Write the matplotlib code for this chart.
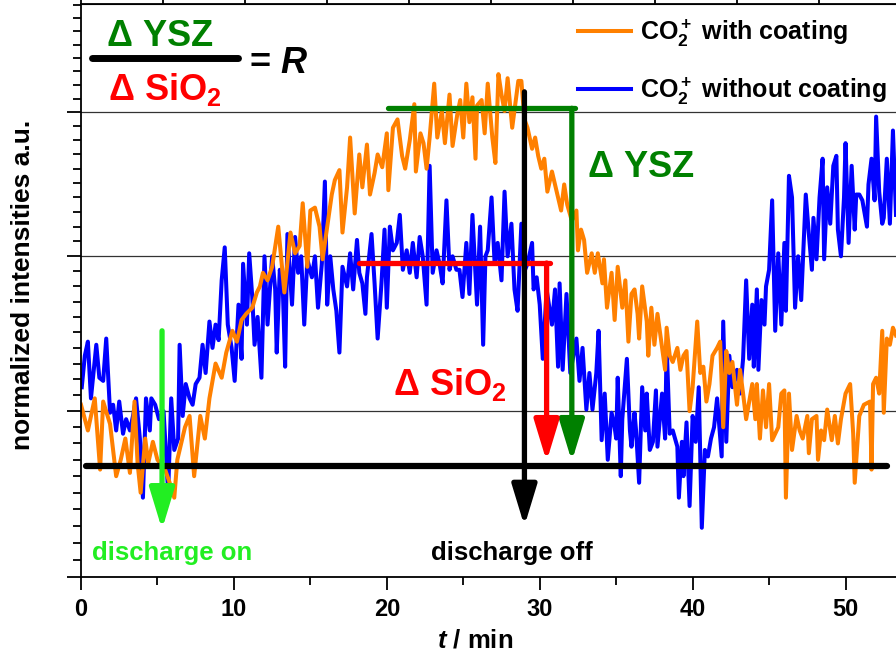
import numpy as np
import matplotlib.pyplot as plt

# CO2+ signal with coating (orange), time in min
t_coat = [0.0, 0.45, 0.9, 1.25, 1.45, 1.9, 2.3, 2.6, 2.9, 3.2,
          3.5, 3.7, 3.9, 4.2, 4.4, 4.7, 5.0, 5.5, 5.8, 6.1,
          6.3, 6.8, 7.1, 7.4, 7.8, 8.1, 8.4, 8.8, 9.2, 9.5,
          9.9, 10.2, 10.5, 10.8, 11.2, 11.5, 11.7, 11.9, 12.2, 12.5,
          12.9, 13.1, 13.3, 13.7, 14.0, 14.3, 14.5, 14.8, 15.0, 15.3,
          15.6, 15.8, 16.1, 16.4, 16.6, 16.9, 17.1, 17.4, 17.6, 17.9,
          18.2, 18.4, 18.7, 18.9, 19.2, 19.4, 19.7, 20.0, 20.1, 20.4,
          20.7, 21.0, 21.2, 21.5, 21.8, 21.9, 22.2, 22.4, 22.6, 22.8,
          23.1, 23.3, 23.6, 23.8, 24.1, 24.3, 24.6, 24.8, 25.0, 25.2,
          25.4, 25.6, 25.8, 25.9, 26.2, 26.4, 26.6, 26.9, 27.1, 27.3,
          27.5, 27.7, 27.9, 28.2, 28.4, 28.6, 28.8, 29.0, 29.2, 29.5,
          29.7, 29.9, 30.1, 30.3, 30.5, 30.8, 31.0, 31.2, 31.4, 31.6,
          31.8, 32.1, 32.4, 32.5, 32.7, 32.9, 33.1, 33.4, 33.6, 33.8,
          34.1, 34.2, 34.4, 34.7, 34.9, 35.1, 35.4, 35.6, 35.8, 36.0,
          36.2, 36.4, 36.5, 36.7, 37.0, 37.1, 37.3, 37.5, 37.7, 38.0,
          38.2, 38.3, 38.5, 38.7, 39.0, 39.2, 39.4, 39.6, 39.8, 40.0,
          40.3, 40.5, 40.7, 40.9, 41.1, 41.3, 41.6, 41.8, 42.0, 42.2,
          42.4, 42.6, 42.9, 43.1, 43.3, 43.5, 43.9, 44.1, 44.2, 44.4,
          44.6, 44.8, 45.0, 45.2, 45.6, 45.8, 46.0, 46.1, 46.3, 46.5,
          46.8, 47.0, 47.2, 47.5, 47.6, 47.8, 48.1, 48.2, 48.4, 48.6,
          48.8, 49.1, 49.3, 49.5, 49.7, 50.0, 50.3, 50.5, 50.6, 50.9,
          51.2, 51.6, 51.7, 51.8, 52.0, 52.2, 52.4, 52.5, 52.7, 52.9,
          53.1, 53.3]
y_coat = [1.04, 0.88, 1.08, 0.64, 1.06, 0.92, 0.60, 0.70, 0.83, 0.62,
          1.06, 0.68, 0.50, 0.83, 0.68, 0.81, 0.70, 0.64, 0.56, 0.47,
          0.70, 0.90, 0.97, 0.60, 0.97, 0.83, 1.08, 1.30, 1.21, 1.37,
          1.51, 1.44, 1.58, 1.62, 1.66, 1.76, 1.80, 1.89, 1.84, 1.93,
          2.20, 1.98, 1.76, 2.16, 2.02, 2.07, 2.36, 1.93, 2.31, 2.33,
          2.20, 1.98, 2.20, 2.42, 2.52, 2.59, 2.16, 2.47, 2.82, 2.29,
          2.70, 2.47, 2.77, 2.42, 2.57, 2.70, 2.61, 2.85, 2.45, 2.89,
          2.95, 2.69, 2.60, 2.80, 3.06, 2.58, 2.85, 2.78, 2.60, 2.82,
          3.21, 2.82, 3.01, 2.78, 3.13, 2.76, 2.98, 3.09, 2.82, 3.21,
          2.93, 3.11, 2.67, 3.05, 3.09, 2.85, 3.21, 2.82, 2.64, 3.28,
          3.13, 3.01, 3.25, 2.89, 3.06, 3.23, 3.23, 2.95, 2.89, 2.74,
          2.82, 2.69, 2.60, 2.67, 2.44, 2.58, 2.49, 2.40, 2.31, 2.49,
          2.35, 2.24, 2.31, 2.04, 2.18, 2.11, 1.89, 2.02, 1.89, 2.02,
          1.82, 1.98, 1.66, 1.89, 1.58, 1.93, 1.66, 1.84, 1.44, 1.75,
          1.78, 1.62, 1.46, 1.80, 1.57, 1.35, 1.66, 1.42, 1.62, 1.40,
          1.26, 1.53, 1.35, 1.31, 1.40, 1.26, 1.35, 1.38, 1.00, 1.15,
          1.57, 1.24, 1.28, 1.06, 1.17, 1.35, 1.40, 1.44, 0.90, 1.38,
          1.24, 1.31, 1.04, 1.26, 1.11, 0.95, 1.17, 0.95, 1.17, 0.83,
          1.13, 0.90, 1.17, 0.82, 0.90, 1.11, 1.13, 0.47, 1.11, 0.76,
          0.97, 0.88, 0.83, 0.97, 0.74, 0.95, 0.97, 0.70, 0.88, 0.82,
          1.01, 0.82, 0.97, 0.80, 0.95, 1.11, 1.17, 0.86, 0.56, 0.97,
          1.04, 1.06, 0.64, 1.17, 1.21, 1.11, 1.51, 0.99, 1.46, 1.42,
          1.53, 1.48]

# CO2+ signal without coating (blue)
t_bare = [0.05, 0.25, 0.45, 0.65, 1.0, 1.2, 1.45, 1.65, 1.9, 2.1,
          2.3, 2.5, 2.75, 2.95, 3.2, 3.4, 3.6, 3.85, 4.05, 4.25,
          4.5, 4.6, 4.85, 5.1, 5.4, 5.7, 5.9, 6.1, 6.35, 6.45,
          6.65, 6.85, 7.1, 7.3, 7.5, 7.75, 7.95, 8.15, 8.4, 8.6,
          8.8, 9.0, 9.2, 9.4, 9.6, 9.85, 10.05, 10.3, 10.5, 10.6,
          10.85, 11.0, 11.2, 11.35, 11.55, 11.8, 12.0, 12.2, 12.5, 12.7,
          12.8, 13.0, 13.2, 13.35, 13.5, 13.8, 14.0, 14.2, 14.4, 14.6,
          14.8, 15.1, 15.3, 15.5, 15.75, 15.95, 16.1, 16.3, 16.5, 16.7,
          16.9, 17.1, 17.4, 17.6, 17.8, 18.05, 18.2, 18.4, 18.6, 18.7,
          19.0, 19.2, 19.4, 19.65, 19.85, 20.0, 20.2, 20.4, 20.65, 20.85,
          21.05, 21.3, 21.5, 21.7, 21.95, 22.15, 22.35, 22.6, 22.8, 23.0,
          23.25, 23.45, 23.65, 23.9, 24.1, 24.3, 24.55, 24.75, 24.95, 25.2,
          25.4, 25.6, 25.9, 26.1, 26.3, 26.45, 26.6, 26.85, 27.05, 27.25,
          27.5, 27.7, 27.9, 28.15, 28.35, 28.55, 28.8, 29.0, 29.2, 29.5,
          29.6, 29.8, 30.0, 30.2, 30.45, 30.8, 31.0, 31.2, 31.3, 31.5,
          31.75, 32.0, 32.4, 32.6, 32.8, 33.05, 33.25, 33.45, 33.7, 33.85,
          34.05, 34.25, 34.45, 34.7, 34.9, 35.0, 35.1, 35.3, 35.4, 35.7,
          35.9, 36.0, 36.2, 36.3, 36.5, 36.7, 36.9, 37.0, 37.2, 37.4,
          37.6, 37.7, 38.0, 38.2, 38.3, 38.5, 38.7, 39.0, 39.1, 39.3,
          39.4, 39.6, 39.8, 40.0, 40.2, 40.4, 40.6, 40.8, 41.0, 41.2,
          41.4, 41.6, 41.9, 42.0, 42.2, 42.4, 42.6, 42.9, 43.1, 43.3,
          43.5, 43.7, 43.9, 44.0, 44.2, 44.3, 44.5, 44.7, 44.8, 45.0,
          45.2, 45.4, 45.6, 45.8, 46.0, 46.1, 46.3, 46.5, 46.7, 46.9,
          47.1, 47.4, 47.6, 47.8, 47.9, 48.1, 48.3, 48.5, 48.6, 48.8,
          49.0, 49.2, 49.4, 49.5, 49.7, 49.9, 50.0, 50.2, 50.4, 50.6,
          50.7, 50.9, 51.1, 51.4, 51.5, 51.7, 51.9, 52.0, 52.2, 52.4,
          52.5, 52.7, 52.9, 53.1, 53.3]
y_bare = [1.15, 1.35, 1.44, 1.08, 1.42, 1.21, 1.19, 1.46, 0.99, 1.04,
          0.88, 1.06, 0.86, 0.95, 0.88, 0.97, 1.08, 0.83, 0.47, 1.08,
          0.88, 1.08, 1.04, 0.95, 1.00, 0.50, 1.08, 0.76, 0.83, 1.42,
          0.97, 1.17, 1.08, 1.04, 1.17, 1.21, 1.42, 1.24, 1.57, 1.40,
          1.55, 1.45, 1.84, 2.06, 1.55, 1.40, 1.19, 1.68, 1.33, 1.95,
          1.55, 2.02, 1.73, 1.42, 1.60, 1.21, 2.00, 1.55, 2.00, 1.78,
          1.37, 1.91, 1.78, 1.28, 2.15, 1.68, 2.13, 1.89, 2.00, 1.55,
          1.98, 1.86, 2.00, 1.66, 1.95, 2.51, 1.68, 2.00, 1.78, 1.64,
          1.37, 1.93, 1.80, 2.02, 1.78, 2.11, 1.89, 1.82, 1.62, 1.86,
          2.15, 1.82, 1.46, 1.82, 2.18, 1.66, 2.20, 2.04, 2.09, 2.28,
          1.91, 2.04, 1.89, 2.09, 1.86, 2.13, 2.00, 1.68, 2.62, 1.89,
          2.04, 1.95, 1.82, 2.38, 1.91, 2.00, 1.91, 1.91, 1.73, 2.09,
          1.75, 2.28, 1.68, 2.20, 1.42, 2.00, 2.04, 2.40, 1.95, 2.09,
          1.84, 2.44, 2.00, 2.22, 1.78, 1.64, 2.22, 1.90, 1.95, 2.09,
          1.78, 1.86, 1.68, 1.33, 1.78, 1.55, 1.78, 1.28, 1.82, 1.26,
          1.75, 1.24, 1.46, 1.19, 1.40, 1.01, 1.24, 1.01, 1.24, 1.51,
          0.82, 1.11, 0.70, 0.99, 0.90, 0.83, 1.21, 0.60, 0.95, 1.33,
          0.88, 0.78, 0.99, 0.88, 0.56, 1.15, 0.88, 1.11, 0.76, 0.81,
          1.13, 0.78, 1.11, 0.83, 1.42, 0.86, 0.88, 0.78, 0.47, 0.81,
          0.60, 0.93, 0.42, 0.97, 0.81, 1.15, 0.29, 0.76, 0.72, 0.83,
          0.90, 1.08, 0.72, 1.57, 0.81, 1.35, 1.15, 1.26, 1.11, 1.33,
          1.84, 1.33, 1.68, 1.28, 1.78, 1.26, 1.71, 1.55, 1.80, 1.91,
          2.38, 1.51, 2.02, 1.55, 2.09, 1.64, 2.55, 2.40, 1.66, 2.00,
          1.71, 2.42, 2.15, 1.91, 2.26, 1.98, 2.40, 2.67, 1.98, 2.47,
          2.22, 2.62, 2.69, 2.18, 2.00, 2.40, 2.78, 2.09, 2.62, 2.18,
          2.42, 2.42, 2.38, 2.20, 2.49, 2.67, 2.38, 2.97, 2.44, 2.22,
          2.26, 2.67, 2.22, 2.87, 2.28]

labels = [r"CO$_2^+$ with coating", r"CO$_2^+$ without coating"]

# annotation levels
t_on, t_off = 5.3, 29.0
base_level = 0.66
ysz_level, sio2_level = 3.03, 1.955
t_ysz, t_sio2 = 32.1, 30.45

plt.rcParams['font.family'] = 'Liberation Sans'
plt.rcParams['font.weight'] = 'bold'
plt.rcParams['axes.labelweight'] = 'bold'
plt.rcParams['mathtext.fontset'] = 'custom'
plt.rcParams['mathtext.rm'] = 'Liberation Sans:bold'
plt.rcParams['mathtext.bf'] = 'Liberation Sans:bold'
plt.rcParams['mathtext.it'] = 'Liberation Sans:bold:italic'
plt.rcParams['mathtext.sf'] = 'Liberation Sans'
plt.rcParams['mathtext.default'] = 'rm'

# the intensity axis of the original is slightly compressed towards the top
k = 0.0321
def fwd(u):
    return u - k * u**2
def inv(p):
    return (1 - np.sqrt(np.clip(1 - 4 * k * p, 0, None))) / (2 * k)

fig = plt.figure(figsize=(8.96, 6.61), dpi=100)
ax = fig.add_axes([81/896, 84/661, 815/896, 573/661])
ax.set_yscale('function', functions=(fwd, inv))

l_bare, = ax.plot(t_bare, y_bare, color='#0000FF', lw=2.9, zorder=2)
l_coat, = ax.plot(t_coat, y_coat, color='#FF8000', lw=2.9, zorder=2.1)

ax.set_xlim(0, 53.3)
ax.set_ylim(0, 3.81)

ax.set_xticks(range(0, 51, 10))
ax.set_xticks(range(5, 51, 10), minor=True)
ax.set_yticks([0, 1, 2, 3])
ax.set_yticks(np.arange(0, 3.81, 0.1), minor=True)
ax.set_yticklabels([])
ax.grid(axis='y', which='major', color='#333333', lw=0.9)
ax.tick_params(axis='x', which='major', length=9, width=1.3, labelsize=17, pad=6)
ax.tick_params(axis='x', which='minor', length=5.5, width=1.3)
ax.tick_params(axis='y', which='major', length=10, width=1.3)
ax.tick_params(axis='y', which='minor', length=5.5, width=1.3)
for s in ['left', 'bottom', 'top']:
    ax.spines[s].set_linewidth(1.3)
ax.spines['right'].set_visible(False)

top = ax.secondary_xaxis('top')
top.set_xticks(np.arange(0, 53.3, 5.36))
top.tick_params(length=8, width=1.3, labeltop=False)

ax.set_xlabel(r"$\mathit{t}$ / min", fontsize=18.5)
ax.xaxis.set_label_coords(0.483, -0.09)
ax.set_ylabel("normalized intensities a.u.", fontsize=19)
ax.yaxis.set_label_coords(-0.056, 0.51)

# baseline and arrows
ax.plot([0.3, 52.7], [base_level, base_level], color='black', lw=4.5,
        solid_capstyle='round', zorder=4)
ax.plot([20.1, 32.3], [ysz_level, ysz_level], color='#008000', lw=3.8,
        solid_capstyle='round', zorder=3)
ax.plot([18.2, 30.7], [sio2_level, sio2_level], color='#FF0000', lw=3.8,
        solid_capstyle='round', zorder=3)

def arrow(x, y0, y1, color):
    ax.annotate('', xy=(x, y1), xytext=(x, y0),
                arrowprops=dict(arrowstyle='-|>,head_length=1.25,head_width=0.38',
                                color=color, lw=3.8, mutation_scale=20,
                                shrinkA=0, shrinkB=0, capstyle='round',
                                joinstyle='round'),
                zorder=5)

arrow(t_on, 1.51, 0.28, '#22EE22')
arrow(t_off, 3.15, 0.30, 'black')
arrow(t_ysz, ysz_level, 0.69, '#008000')
arrow(t_sio2, sio2_level, 0.69, '#FF0000')

ax.text(33.1, 2.545, r"$\mathsf{\Delta}$ YSZ", color='#008000', fontsize=26)
ax.text(20.4, 1.10, r"$\mathsf{\Delta}$ SiO$_2$", color='#FF0000', fontsize=26)
ax.text(0.72, 0.099, "discharge on", color='#22EE22', fontsize=18.5)
ax.text(22.9, 0.099, "discharge off", color='black', fontsize=18.5)

# ratio in the top left corner
ax.text(0.0307, 0.9267, r"$\mathsf{\Delta}$ YSZ", color='#008000', fontsize=26,
        transform=ax.transAxes)
ax.text(0.033, 0.8325, r"$\mathsf{\Delta}$ SiO$_2$", color='#FF0000', fontsize=26,
        transform=ax.transAxes)
ax.plot([0.0135, 0.193], [0.906, 0.906], color='black', lw=5,
        solid_capstyle='round', transform=ax.transAxes)
ax.text(0.206, 0.8796, r"= $\mathit{R}$", color='black', fontsize=26,
        transform=ax.transAxes)

ax.legend([l_coat, l_bare], labels, loc='upper right', bbox_to_anchor=(1.005, 1.0),
          frameon=False, fontsize=18, handlelength=2.1, handletextpad=0.35,
          labelspacing=1.05, borderaxespad=0.15)

fig.savefig('out.png', dpi=100)
